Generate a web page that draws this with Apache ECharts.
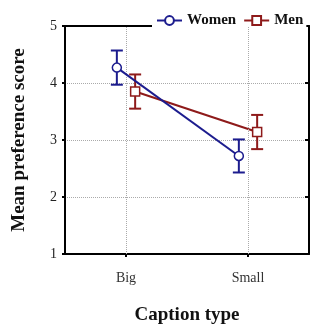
<!DOCTYPE html>
<html>
<head>
<meta charset="utf-8">
<script src="https://cdn.jsdelivr.net/npm/echarts@6/dist/echarts.min.js"></script>
<style>
  html, body { margin: 0; padding: 0; background: #fff; }
  #main { width: 310px; height: 325px; }
</style>
</head>
<body>
<div id="main"></div>
<script>
  // categories and values
  var categories = ['Big', 'Small'];
  var womenMean = [4.27, 2.72];
  var womenErr = [0.30, 0.29];
  var menMean = [3.85, 3.14];
  var menErr = [0.30, 0.30];
  var yTicks = [1, 2, 3, 4, 5];

  var navy = '#1c1c8e';
  var red = '#8e1a1a';
  var serif = '"Liberation Serif", "DejaVu Serif", serif';
  var shift = 0.075;

  function pts(mean, dx) {
    return mean.map(function (v, i) { return [i + 1 + dx, v]; });
  }
  function bars(mean, err, dx) {
    return mean.map(function (v, i) { return [i + 1 + dx, v - err[i], v + err[i]]; });
  }

  function errorBar(color) {
    return function (params, api) {
      var x = api.value(0);
      var lo = api.coord([x, api.value(1)]);
      var hi = api.coord([x, api.value(2)]);
      var w = 6;
      var style = { stroke: color, lineWidth: 2 };
      return {
        type: 'group',
        children: [
          { type: 'line', shape: { x1: lo[0], y1: lo[1], x2: hi[0], y2: hi[1] }, style: style },
          { type: 'line', shape: { x1: lo[0] - w, y1: lo[1], x2: lo[0] + w, y2: lo[1] }, style: style },
          { type: 'line', shape: { x1: hi[0] - w, y1: hi[1], x2: hi[0] + w, y2: hi[1] }, style: style }
        ]
      };
    };
  }

  var frame = { show: true, onZero: false, lineStyle: { color: '#000', width: 2 } };

  var myChart = echarts.init(document.getElementById('main'));
  var option = {
    backgroundColor: '#fff',
    animation: false,
    grid: { left: 65, right: 1, top: 26, bottom: 71, outerBoundsMode: 'none', containLabel: false },
    legend: {
      left: 152, top: 10,
      itemWidth: 25, itemHeight: 11, itemGap: 7,
      backgroundColor: '#fff',
      padding: [3, 3, 3, 4],
      textStyle: { fontFamily: serif, fontWeight: 'bold', fontSize: 15, color: '#111' },
      data: ['Women', 'Men']
    },
    xAxis: [{
      type: 'value', min: 0.5, max: 2.5,
      name: 'Caption type', nameLocation: 'middle', nameGap: 52,
      nameTextStyle: { fontFamily: serif, fontWeight: 'bold', fontSize: 19, color: '#111' },
      axisLine: frame,
      axisTick: { show: true, length: 3, customValues: [1, 2], lineStyle: { color: '#000', width: 2 } },
      axisLabel: {
        customValues: [1, 2], margin: 17,
        fontFamily: serif, fontSize: 14, color: '#333',
        formatter: function (v) { return categories[Math.round(v) - 1] || ''; }
      },
      splitLine: { show: false }
    }, {
      type: 'value', min: 0.5, max: 2.5, position: 'top',
      axisLine: frame, axisTick: { show: false }, axisLabel: { show: false }, splitLine: { show: false }
    }],
    yAxis: [{
      type: 'value', min: yTicks[0], max: yTicks[yTicks.length - 1], interval: 1,
      name: 'Mean preference score', nameLocation: 'middle', nameGap: 36,
      nameTextStyle: { fontFamily: serif, fontWeight: 'bold', fontSize: 19, color: '#111' },
      axisLine: frame,
      axisTick: { show: true, length: 3, lineStyle: { color: '#000', width: 2 } },
      axisLabel: { fontFamily: serif, fontSize: 14, color: '#222', margin: 8 },
      splitLine: { show: true, lineStyle: { color: '#aaa', type: 'dotted', width: 1 } }
    }, {
      type: 'value', min: yTicks[0], max: yTicks[yTicks.length - 1], interval: 1, position: 'right',
      axisLine: frame,
      axisTick: { show: true, inside: true, length: 4, lineStyle: { color: '#000', width: 2 } },
      axisLabel: { show: false }, splitLine: { show: false }
    }],
    series: [
      {
        name: 'Women', type: 'line', data: pts(womenMean, -shift), z: 5,
        symbol: 'circle', symbolSize: 9,
        lineStyle: { color: navy, width: 2 },
        itemStyle: { color: '#fff', borderColor: navy, borderWidth: 1.5 },
        markLine: {
          silent: true, symbol: 'none', label: { show: false },
          lineStyle: { color: '#aaa', type: 'dotted', width: 1 },
          data: [{ xAxis: 1 }, { xAxis: 2 }]
        }
      },
      {
        name: 'Men', type: 'line', data: pts(menMean, shift), z: 4,
        symbol: 'rect', symbolSize: 9,
        lineStyle: { color: red, width: 2 },
        itemStyle: { color: '#fff', borderColor: red, borderWidth: 1.5 }
      },
      {
        name: 'Women', type: 'custom', data: bars(womenMean, womenErr, -shift),
        renderItem: errorBar(navy), z: 3
      },
      {
        name: 'Men', type: 'custom', data: bars(menMean, menErr, shift),
        renderItem: errorBar(red), z: 3
      }
    ]
  };
  myChart.setOption(option);
</script>
</body>
</html>
